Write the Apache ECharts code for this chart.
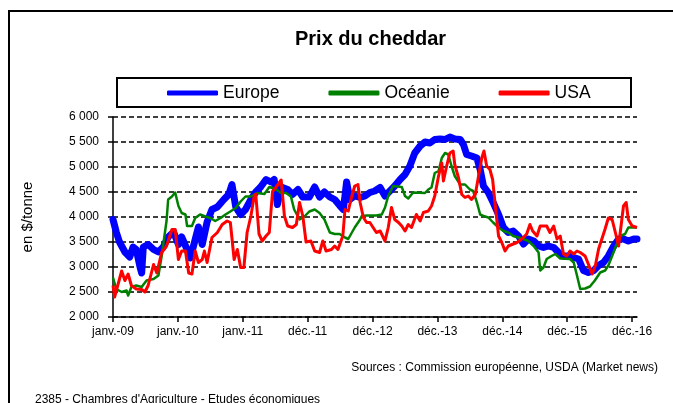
<!DOCTYPE html>
<html>
<head>
<meta charset="utf-8">
<script src="https://cdn.jsdelivr.net/npm/echarts@6/dist/echarts.min.js"></script>
<style>
  html, body { margin: 0; padding: 0; background: #fff; }
  #main { width: 673px; height: 403px; }
</style>
</head>
<body>
<div id="main"></div>
<script>
// x = mois depuis janv.-09 (une graduation tous les 12 mois)
var xTickLabels = ['janv.-09', 'janv.-10', 'janv.-11', 'déc.-11', 'déc.-12', 'déc.-13', 'déc.-14', 'déc.-15', 'déc.-16'];
var xTickValues = [0, 12, 24, 36, 48, 60, 72, 84, 96];
var seriesNames = ['Europe', 'Océanie', 'USA'];

var europe = [
  [0, 3950], [0.6, 3700], [1.2, 3500], [2.2, 3300], [3.1, 3200], [3.7, 3400], [4.3, 3350], [5, 3000],
  [5.3, 2880], [5.6, 3400], [6.5, 3450], [7.5, 3350], [8.4, 3300], [9.3, 3400], [10.2, 3600], [11.2, 3700],
  [12.1, 3450], [12.7, 3600], [13.7, 3350], [14.3, 3180], [15.2, 3550], [15.8, 3800], [16.5, 3450], [17.4, 3900],
  [18.3, 4150], [19.3, 4200], [20.5, 4350], [21.4, 4450], [22, 4650], [22.7, 4200], [23.6, 4050], [24.5, 4150],
  [25.5, 4350], [26.4, 4500], [27.3, 4600], [28.3, 4750], [29.2, 4700], [29.8, 4750], [30.4, 4250], [31.1, 4600],
  [32.3, 4550], [33.2, 4450], [34.2, 4550], [35.1, 4400], [36.3, 4400], [37.3, 4600], [38.2, 4400], [39.1, 4500],
  [40.1, 4400], [41, 4350], [42, 4220], [42.6, 4150], [43.2, 4700], [43.8, 4350], [44.7, 4420], [45.7, 4390],
  [46.6, 4420], [47.5, 4490], [48.4, 4520], [49.4, 4590], [50.3, 4420], [51.2, 4520], [52.1, 4620], [53.1, 4750],
  [54, 4850], [54.9, 5020], [55.8, 5280], [56.8, 5420], [57.7, 5500], [58.6, 5480], [59.5, 5550], [60.5, 5560],
  [61.4, 5550], [62.3, 5600], [63.2, 5560], [64.2, 5550], [64.8, 5450], [65.4, 5250], [66.3, 5220], [67.3, 5180],
  [67.9, 4950], [68.5, 4620], [69.4, 4490], [70.3, 4290], [71.3, 4050], [72.2, 3790], [73.1, 3690], [74, 3720],
  [75, 3620], [75.9, 3460], [76.8, 3560], [77.8, 3520], [78.7, 3420], [79.6, 3390], [80.5, 3420], [81.5, 3390],
  [82.4, 3290], [83.3, 3220], [84.2, 3220], [85.2, 3190], [86.1, 3160], [87, 2930], [87.9, 2890], [88.9, 2930],
  [89.8, 3030], [90.7, 3090], [91.6, 3220], [92.6, 3420], [93.5, 3560], [94.4, 3560], [95.3, 3520], [96.3, 3560],
  [96.9, 3560]
];

var oceanie = [
  [0, 2790], [0.6, 2560], [1.6, 2500], [2.5, 2530], [2.8, 2430], [3.4, 2600], [4.3, 2630], [5.3, 2600],
  [6.2, 2730], [7.5, 2760], [8.4, 2830], [9, 3220], [9.6, 3690], [9.9, 3920], [10.2, 4350], [10.9, 4410],
  [11.5, 4490], [12.1, 4220], [12.7, 4080], [13.4, 4050], [13.7, 3820], [14.6, 3820], [15.2, 3980], [16.1, 4050],
  [17.1, 4010], [18, 3980], [18.9, 3920], [19.9, 3980], [20.8, 4050], [21.7, 4110], [22.7, 4180], [23.6, 4310],
  [24.5, 4410], [25.5, 4410], [26.7, 4480], [28, 4460], [28.9, 4600], [30.1, 4560], [31.1, 4480], [32, 4480],
  [32.9, 4410], [33.5, 4150], [34.5, 3950], [35.4, 4010], [36.3, 4110], [37.3, 4150], [38.2, 4080], [39.1, 3950],
  [40.1, 3690], [41, 3660], [41.9, 3660], [42.9, 3590], [43.5, 3560], [44.7, 3790], [45.7, 3950], [46, 4020],
  [46.9, 4030], [48.7, 4030], [49.7, 4050], [50.3, 4190], [50.9, 4420], [51.8, 4620], [53.4, 4600], [54, 4420],
  [54.6, 4370], [55.5, 4490], [57.7, 4480], [58.3, 4550], [58.9, 4590], [59.5, 4880], [60.2, 4920], [60.8, 5180],
  [61.4, 5280], [62, 5250], [62.6, 5020], [63.2, 4820], [64.2, 4650], [65.1, 4650], [66, 4550], [66.6, 4520],
  [67.3, 4290], [67.9, 4050], [68.5, 4020], [69.4, 3990], [70.3, 3890], [71.3, 3790], [72.2, 3720], [73.1, 3690],
  [74, 3620], [75, 3590], [75.9, 3560], [76.8, 3520], [77.8, 3420], [78.7, 3290], [79, 2930], [79.6, 2990],
  [80.2, 3160], [81.1, 3220], [81.8, 3260], [82.7, 3170], [84.5, 3160], [85.2, 3090], [85.8, 2830], [86.4, 2560],
  [87.3, 2570], [88.2, 2610], [89.1, 2730], [90.1, 2890], [91, 2930], [91.6, 3030], [92.3, 3220], [92.9, 3390],
  [93.8, 3620], [94.7, 3660], [95.3, 3790], [96.9, 3790]
];

var usa = [
  [0, 2630], [0.3, 2400], [0.6, 2430], [1.2, 2760], [1.6, 2920], [2.2, 2730], [2.8, 2860], [3.4, 2630],
  [4.3, 2560], [5.3, 2550], [5.9, 2500], [6.5, 2630], [7.5, 3050], [8.1, 2880], [9, 3290], [9.9, 3420],
  [10.9, 3750], [11.5, 3750], [12.1, 3150], [12.7, 3320], [13.4, 3320], [14, 2880], [14.6, 2860], [15.2, 3320],
  [15.8, 3090], [16.5, 3150], [16.9, 3320], [17.4, 3090], [18.3, 3590], [19.3, 3690], [20.2, 3850], [21.1, 3920],
  [21.7, 3890], [22.4, 3150], [23, 3350], [23.6, 2990], [24.2, 2990], [24.8, 3690], [25.5, 4020], [26.1, 4410],
  [26.4, 4460], [27, 3660], [27.6, 3520], [28.3, 3620], [28.9, 3690], [29.5, 4510], [30.1, 4590], [30.4, 4560],
  [31.1, 4740], [31.7, 4020], [32.3, 3820], [33.2, 3790], [33.9, 3850], [34.5, 4290], [35.1, 4020], [35.7, 3500],
  [36.6, 3520], [37.3, 3320], [38.2, 3290], [38.8, 3520], [39.4, 3320], [40.4, 3350], [41, 3420], [41.6, 3350],
  [42.5, 3620], [42.9, 4150], [43.5, 4120], [44.1, 4390], [44.7, 4620], [45.3, 4650], [45.7, 4290], [46.3, 3990],
  [46.9, 3890], [47.5, 3890], [48.1, 3790], [48.7, 3690], [49.4, 3720], [50.3, 3520], [50.9, 3790], [51.5, 4190],
  [52.1, 3950], [52.8, 3890], [53.4, 3820], [54, 3720], [54.6, 3850], [55.2, 3790], [56.1, 4050], [56.8, 3920],
  [57.4, 4090], [58.3, 4120], [58.9, 4220], [59.5, 4420], [60.2, 4820], [60.8, 5080], [61.1, 4720], [61.7, 5020],
  [62.3, 5280], [62.9, 5320], [63.2, 5050], [63.9, 4780], [64.5, 4450], [65.1, 4390], [65.7, 4420], [66.3, 4350],
  [67, 4450], [67.6, 4820], [68.2, 5180], [68.6, 5320], [69.1, 5020], [69.7, 4950], [70.2, 4750], [70.7, 4220],
  [71.3, 3620], [71.9, 3490], [72.5, 3320], [73.1, 3420], [74.7, 3490], [75.6, 3560], [76.5, 3660], [77.1, 3850],
  [77.6, 3720], [78.4, 3620], [79, 3820], [80.2, 3820], [80.8, 3690], [81.5, 3820], [82.1, 3560], [82.7, 3620],
  [83.3, 3260], [83.9, 3220], [84.5, 3320], [85.2, 3260], [85.8, 3320], [86.4, 3290], [87.3, 3220], [87.9, 3060],
  [88.6, 2860], [89.2, 3030], [89.8, 3360], [90.4, 3560], [91, 3760], [91.6, 3980], [92.3, 3950], [92.9, 3690],
  [93.5, 3420], [94.4, 4220], [94.9, 4290], [95.3, 3950], [96, 3820], [96.9, 3790]
];

var font = 'Arial, "Liberation Sans", sans-serif';
var myChart = echarts.init(document.getElementById('main'));

myChart.setOption({
  animation: false,
  backgroundColor: '#fff',
  textStyle: { fontFamily: font },
  title: {
    text: 'Prix du cheddar',
    left: 295,
    top: 29,
    padding: 0,
    textStyle: { fontSize: 20, fontWeight: 'bold', color: '#000', fontFamily: font }
  },
  legend: {
    data: seriesNames,
    left: 167,
    top: 83,
    padding: 0,
    itemGap: 49,
    itemWidth: 51,
    itemHeight: 5,
    icon: 'roundRect',
    itemStyle: { borderWidth: 0 },
    textStyle: { fontSize: 17.5, color: '#000', fontFamily: font, lineHeight: 20 }
  },
  graphic: [
    {
      type: 'rect',
      shape: { x: 9, y: 11, width: 700, height: 420 },
      style: { fill: 'none', stroke: '#000', lineWidth: 2 },
      silent: true
    },
    {
      type: 'rect',
      shape: { x: 117, y: 78, width: 514, height: 29 },
      style: { fill: 'none', stroke: '#000', lineWidth: 2 },
      silent: true
    },
    {
      type: 'text',
      x: 658,
      y: 368,
      style: {
        text: 'Sources : Commission européenne, USDA (Market news)',
        fill: '#000', fontSize: 12, fontFamily: font,
        align: 'right', verticalAlign: 'middle'
      }
    },
    {
      type: 'text',
      x: 35,
      y: 400,
      style: {
        text: "2385 - Chambres d'Agriculture - Etudes économiques",
        fill: '#000', fontSize: 12, fontFamily: font,
        align: 'left', verticalAlign: 'middle'
      }
    }
  ],
  grid: {
    left: 113,
    right: 36,
    top: 117,
    bottom: 86
  },
  xAxis: {
    type: 'value',
    min: 0,
    max: 96.9,
    axisLine: { lineStyle: { color: '#000', width: 1.5 } },
    axisTick: { show: true, length: 5, customValues: xTickValues, lineStyle: { color: '#000', width: 1.5 } },
    axisLabel: {
      customValues: xTickValues,
      margin: 9,
      fontSize: 12,
      color: '#000',
      fontFamily: font,
      formatter: function (v) {
        return xTickLabels[Math.round(v / 12)] || '';
      }
    },
    splitLine: { show: false }
  },
  yAxis: {
    type: 'value',
    min: 2000,
    max: 6000,
    interval: 500,
    name: 'en $/tonne',
    nameLocation: 'middle',
    nameGap: 78,
    nameTextStyle: { fontSize: 15, color: '#000', fontFamily: font },
    axisLine: { show: true, lineStyle: { color: '#000', width: 1.5 } },
    axisTick: { show: true, length: 5, lineStyle: { color: '#000', width: 1.5 } },
    axisLabel: {
      margin: 14,
      fontSize: 12,
      color: '#000',
      fontFamily: font,
      formatter: function (v) {
        return String(v).replace(/\B(?=(\d{3})+$)/g, ' ');
      }
    },
    splitLine: { show: true, lineStyle: { color: '#000', width: 1.5, type: [5, 3] } }
  },
  series: [
    {
      name: 'Europe',
      type: 'line',
      data: europe,
      showSymbol: false,
      color: '#0000ff',
      lineStyle: { width: 7, join: 'round', cap: 'round' }
    },
    {
      name: 'Océanie',
      type: 'line',
      data: oceanie,
      showSymbol: false,
      color: '#008000',
      lineStyle: { width: 2.5, join: 'round' }
    },
    {
      name: 'USA',
      type: 'line',
      data: usa,
      showSymbol: false,
      color: '#ff0000',
      lineStyle: { width: 3, join: 'round' }
    }
  ]
});
</script>
</body>
</html>
